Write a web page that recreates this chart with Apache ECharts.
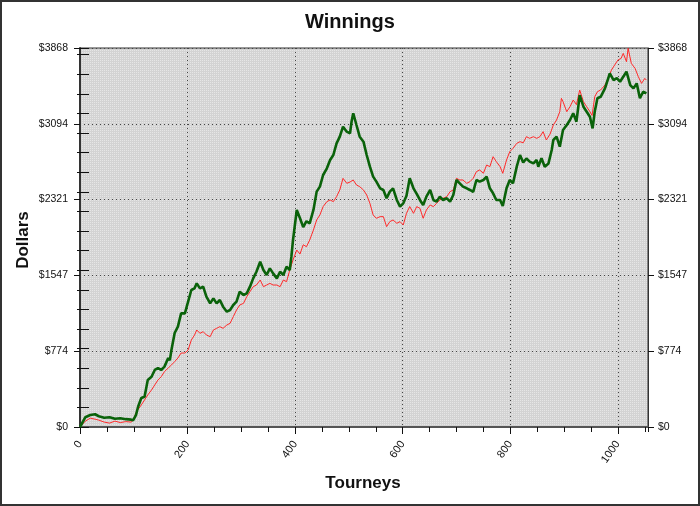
<!DOCTYPE html>
<html>
<head>
<meta charset="utf-8">
<script src="https://cdn.jsdelivr.net/npm/echarts@6/dist/echarts.min.js"></script>
<style>html,body{margin:0;padding:0;background:#fff}#c{width:700px;height:506px}</style>
</head>
<body>
<div id="c"></div>
<script>
const chartTitle = 'Winnings';
const xTitle = 'Tourneys';
const yTitle = 'Dollars';
const yMax = 3868;
const xMax = 1056;

const greenTourneys = [0,10,19,28,35,45,55,65,75,85,95,99,104,108,114,120,126,133,139,145,151,157,164,167,170,176,182,188,195,201,207,213,217,223,229,235,242,248,254,260,266,273,279,285,291,297,304,310,316,322,328,335,341,347,353,359,366,372,378,384,390,393,396,403,409,415,421,427,434,440,446,452,459,465,471,477,483,489,496,502,505,508,514,520,527,533,539,545,551,558,564,570,576,582,589,595,601,607,613,620,626,632,638,644,651,657,663,669,675,682,688,694,700,706,712,719,725,731,737,743,750,756,762,768,774,781,786,793,799,805,812,818,824,830,836,843,849,852,858,864,871,877,880,886,892,898,905,911,917,923,929,936,942,948,953,957,962,968,976,978,985,992,998,1004,1010,1016,1023,1029,1035,1041,1047,1053];
const greenDollars = [0,100,122,130,110,95,100,85,90,80,75,70,120,207,296,309,480,513,582,602,582,616,704,680,786,959,1024,1160,1160,1279,1398,1415,1466,1415,1432,1330,1262,1313,1262,1296,1228,1177,1194,1245,1279,1381,1347,1364,1432,1517,1585,1687,1602,1551,1619,1568,1517,1585,1551,1636,1602,1738,1908,2215,2130,2040,2100,2079,2215,2402,2453,2572,2640,2725,2776,2895,2963,3065,3014,2997,3120,3202,3082,2963,2912,2776,2657,2555,2504,2436,2419,2334,2402,2436,2317,2249,2283,2360,2538,2436,2380,2317,2266,2351,2419,2317,2300,2351,2317,2334,2300,2368,2521,2487,2453,2436,2419,2400,2521,2504,2521,2555,2436,2385,2317,2317,2255,2436,2521,2487,2657,2776,2700,2740,2708,2691,2725,2657,2742,2657,2690,2827,2929,2963,2861,3031,3082,3133,3202,3116,3388,3269,3218,3167,3048,3220,3355,3370,3456,3490,3610,3541,3560,3524,3575,3626,3490,3456,3507,3355,3422,3405];

const redTourneys = [0,10,19,28,35,45,55,65,75,85,95,99,105,114,120,126,133,139,145,151,157,164,170,176,182,188,195,201,207,213,217,223,229,235,242,248,254,260,266,273,279,285,291,297,304,310,316,322,328,335,341,347,353,359,366,372,378,384,390,396,403,409,415,421,427,434,440,446,452,459,465,471,477,483,489,496,502,508,514,520,527,533,539,545,551,558,564,570,576,582,589,595,601,607,613,620,626,632,638,644,651,657,663,669,675,682,688,694,700,706,712,719,725,731,737,743,750,756,762,768,774,781,786,793,799,805,812,818,824,830,836,843,849,855,861,867,874,880,886,892,895,898,905,911,917,923,929,936,942,948,952,957,962,968,976,982,988,994,1000,1006,1010,1016,1019,1025,1032,1038,1044,1050,1053];
const redDollars = [0,60,90,80,70,50,40,60,45,55,50,70,157,225,276,327,378,429,480,513,565,602,633,667,704,755,755,786,888,939,990,956,973,939,922,990,1007,1024,1007,1041,1058,1126,1194,1245,1262,1330,1381,1432,1449,1500,1432,1449,1466,1449,1449,1432,1500,1483,1602,1704,1806,1765,1860,1840,1908,2011,2113,2164,2249,2300,2317,2300,2351,2419,2538,2487,2500,2521,2470,2453,2419,2368,2283,2164,2130,2147,2147,2045,2096,2113,2079,2096,2062,2181,2250,2181,2249,2232,2130,2215,2266,2249,2283,2317,2334,2351,2402,2419,2538,2521,2521,2487,2504,2538,2606,2623,2590,2674,2657,2759,2708,2657,2589,2725,2810,2844,2895,2912,2900,2963,2946,2963,2946,2963,3014,2929,2990,3082,3133,3218,3355,3320,3218,3269,3337,3290,3439,3320,3269,3218,3180,3371,3422,3440,3490,3558,3643,3694,3745,3762,3813,3728,3865,3711,3660,3575,3507,3558,3540];

function zip(xs, ys) { return xs.map((x, i) => [x, ys[i]]); }

function makePattern() {
  const c = document.createElement('canvas');
  c.width = 2; c.height = 2;
  const ctx = c.getContext('2d');
  ctx.fillStyle = '#d3d3d3';
  ctx.fillRect(0, 0, 2, 2);
  ctx.fillStyle = '#e6e6e6';
  ctx.fillRect(0, 0, 1, 1);
  return { image: c, repeat: 'repeat' };
}

const FONT = '"Liberation Sans", Arial, sans-serif';
const chart = echarts.init(document.getElementById('c'), null, { renderer: 'canvas' });

const dotted = { color: '#444', width: 1, type: [1, 3] };
const tickStyle = { color: '#111', width: 1 };

const option = {
  animation: false,
  backgroundColor: '#ffffff',
  grid: { left: 80, right: 52, top: 48, bottom: 79, show: true, backgroundColor: makePattern(), borderColor: '#333', borderWidth: 1 },
  xAxis: [
    { type: 'value', min: 0, max: xMax, interval: 200, position: 'bottom',
      axisLine: { show: true, onZero: false, lineStyle: { color: '#555', width: 2 } },
      axisTick: { show: true, length: 7, lineStyle: tickStyle },
      axisLabel: { rotate: 55, margin: 15, fontSize: 11, color: '#111', fontFamily: FONT, showMaxLabel: false, formatter: v => String(v) },
      splitLine: { show: true, lineStyle: dotted } },
    { type: 'value', min: 0, max: xMax, interval: 50, position: 'bottom',
      axisLine: { show: false }, axisTick: { show: true, length: 5, lineStyle: tickStyle },
      axisLabel: { show: false }, splitLine: { show: false } }
  ],
  yAxis: [
    { type: 'value', min: 0, max: yMax, interval: yMax / 5, position: 'left',
      axisLine: { show: true, onZero: false, lineStyle: { color: '#333', width: 2 } },
      axisTick: { show: true, length: 6, lineStyle: tickStyle },
      axisLabel: { margin: 12, fontSize: 10.5, color: '#111', fontFamily: FONT, formatter: v => '$' + Math.round(v) },
      splitLine: { show: true, lineStyle: dotted } },
    { type: 'value', min: 0, max: yMax, interval: 200, position: 'left', offset: -3,
      axisLine: { show: false }, axisTick: { show: true, length: 6, lineStyle: tickStyle },
      axisLabel: { show: false }, splitLine: { show: false } },
    { type: 'value', min: 0, max: yMax, interval: yMax / 5, position: 'right',
      axisLine: { show: true, onZero: false, lineStyle: { color: '#333', width: 1 } },
      axisTick: { show: true, length: 6, lineStyle: tickStyle },
      axisLabel: { margin: 10, fontSize: 10.5, color: '#111', fontFamily: FONT, formatter: v => '$' + Math.round(v) },
      splitLine: { show: false } },
    { type: 'value', min: 0, max: yMax, interval: 200, position: 'right', offset: -3,
      axisLine: { show: false }, axisTick: { show: true, length: 6, lineStyle: tickStyle },
      axisLabel: { show: false }, splitLine: { show: false } }
  ],
  series: [
    { name: 'red', type: 'line', xAxisIndex: 0, yAxisIndex: 0, data: zip(redTourneys, redDollars),
      showSymbol: false, lineStyle: { color: '#ff2a2a', width: 1 }, z: 3 },
    { name: 'green', type: 'line', xAxisIndex: 0, yAxisIndex: 0, data: zip(greenTourneys, greenDollars),
      showSymbol: false, lineStyle: { color: '#0a620a', width: 2.6 }, z: 4 }
  ],
  graphic: [
    { type: 'rect', shape: { x: 1, y: 1, width: 698, height: 504 }, style: { fill: 'none', stroke: '#333', lineWidth: 2 }, silent: true, z: 100 },
    { type: 'text', x: 350, y: 22, style: { text: chartTitle, textAlign: 'center', textVerticalAlign: 'middle', font: 'bold 20px ' + FONT, fill: '#111' } },
    { type: 'text', x: 363, y: 483, style: { text: xTitle, textAlign: 'center', textVerticalAlign: 'middle', font: 'bold 17px ' + FONT, fill: '#111' } },
    { type: 'text', x: 23, y: 240, rotation: Math.PI / 2, style: { text: yTitle, textAlign: 'center', textVerticalAlign: 'middle', font: 'bold 17px ' + FONT, fill: '#111' } }
  ]
};
chart.setOption(option);
</script>
</body>
</html>
